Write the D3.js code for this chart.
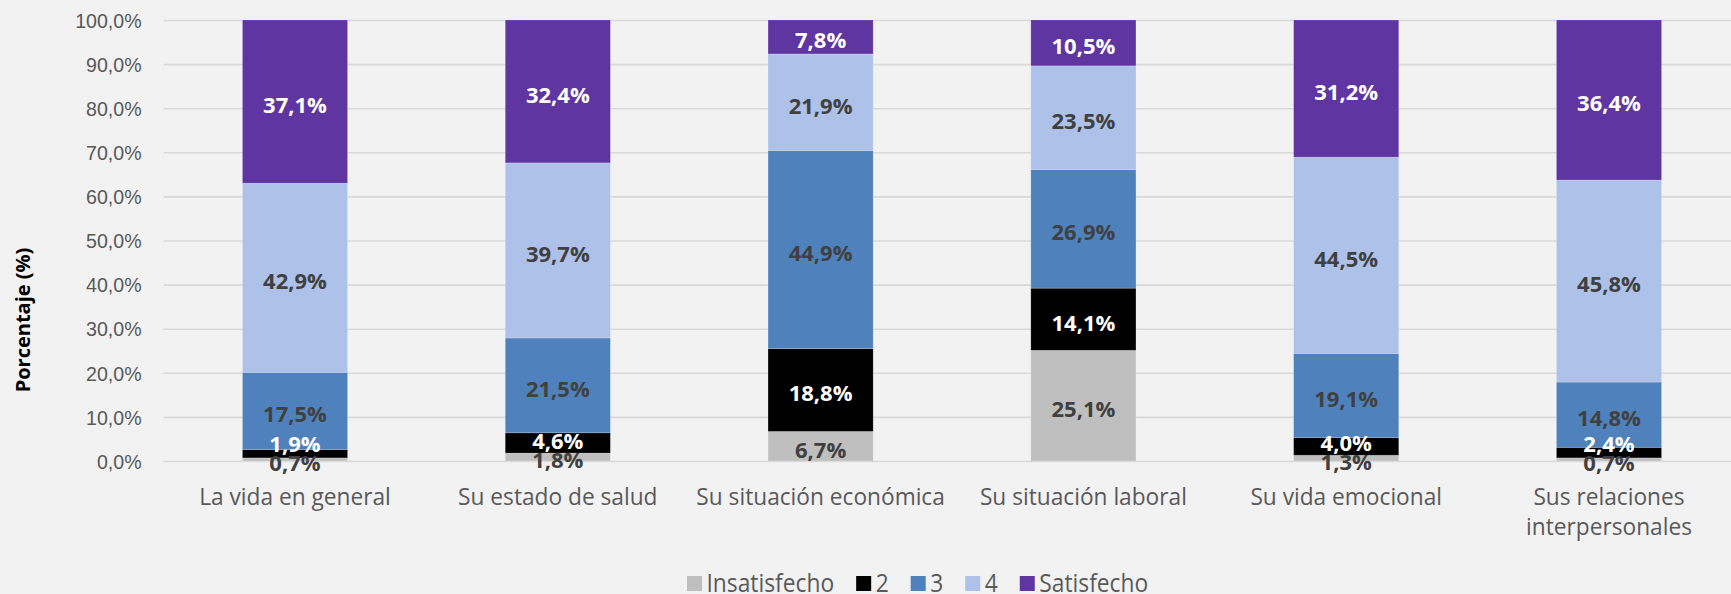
<!DOCTYPE html>
<html>
<head>
<meta charset="utf-8">
<script src="https://cdn.jsdelivr.net/npm/d3@7"></script>
<style>
  html, body { margin: 0; padding: 0; background: #f2f2f2; }
  svg { display: block; font-family: "Open Sans", "Noto Sans", sans-serif; }
</style>
</head>
<body>
<svg id="chart" width="1731" height="594"></svg>
<script>
// Satisfaction by life domain (percent of respondents)
const categories = [
  "La vida en general",
  "Su estado de salud",
  "Su situación económica",
  "Su situación laboral",
  "Su vida emocional",
  "Sus relaciones interpersonales"
];
const seriesNames = ["Insatisfecho", "2", "3", "4", "Satisfecho"];
const insatisfecho = [0.7, 1.8, 6.7, 25.1, 1.3, 0.7];
const nivel2       = [1.9, 4.6, 18.8, 14.1, 4.0, 2.4];
const nivel3       = [17.5, 21.5, 44.9, 26.9, 19.1, 14.8];
const nivel4       = [42.9, 39.7, 21.9, 23.5, 44.5, 45.8];
const satisfecho   = [37.1, 32.4, 7.8, 10.5, 31.2, 36.4];
const yTicks = [0, 10, 20, 30, 40, 50, 60, 70, 80, 90, 100];
const yTitle = "Porcentaje (%)";

const seriesValues = [insatisfecho, nivel2, nivel3, nivel4, satisfecho];
const colors = ["#bfbfbf", "#000000", "#4f81bd", "#adc1e9", "#5e35a1"];
const labelColors = ["#404040", "#ffffff", "#404040", "#404040", "#ffffff"];

const rows = categories.map((c, i) => {
  const r = { category: c };
  seriesNames.forEach((s, k) => { r[s] = seriesValues[k][i]; });
  return r;
});

const svg = d3.select("#chart");
const plot = { left: 163.6, right: 1740.4, top: 20, bottom: 461 };
const stretch = 1.05;  // slightly tall glyph proportion for the grey text
const fmt = v => v.toFixed(1).replace(".", ",") + "%";

const x = d3.scaleBand()
  .domain(categories)
  .range([plot.left, plot.right])
  .paddingInner(0.6)
  .paddingOuter(0.3);

const y = d3.scaleLinear()
  .domain([0, 100])
  .range([plot.bottom, plot.top])
  .clamp(true);

// horizontal gridlines
const grid = svg.append("g")
  .attr("transform", `translate(${plot.left},0)`)
  .call(d3.axisLeft(y).tickValues(yTicks).tickSize(-(plot.right - plot.left)).tickFormat(""));
grid.select(".domain").remove();
grid.selectAll(".tick line").attr("stroke", "#d9d9d9").attr("stroke-width", 1.6);

// y-axis tick labels
const yAxis = svg.append("g")
  .attr("transform", `translate(${plot.left},0)`)
  .call(d3.axisLeft(y).tickValues(yTicks).tickSize(0).tickPadding(22).tickFormat(fmt));
yAxis.select(".domain").remove();
yAxis.selectAll(".tick text")
  .attr("fill", "#595959")
  .attr("font-size", 19.6)
  .attr("dy", "0.35em")
  .attr("transform", `scale(1,${stretch})`);

// y-axis title
svg.append("text")
  .attr("transform", "translate(30,320) rotate(-90)")
  .attr("text-anchor", "middle")
  .attr("font-size", 20)
  .attr("font-weight", "bold")
  .attr("fill", "#000")
  .text(yTitle);

// stacked bars
const stack = d3.stack().keys(seriesNames);
const layers = stack(rows);

const layerG = svg.append("g").selectAll("g")
  .data(layers)
  .join("g")
  .attr("fill", (d, i) => colors[i]);

layerG.selectAll("rect")
  .data(d => d)
  .join("rect")
  .attr("x", d => x(d.data.category))
  .attr("width", x.bandwidth())
  .attr("y", d => y(d[1]))
  .attr("height", d => Math.max(0, y(d[0]) - y(d[1])))
  .attr("stroke", "rgba(255,255,255,0.25)")
  .attr("stroke-width", 0.8);

// data labels, centred in each segment; small segments nudge upward
const labelG = svg.append("g")
  .attr("font-size", 22)
  .attr("font-weight", "bold")
  .attr("text-anchor", "middle");

const minGap = 19;
categories.forEach((c, i) => {
  let prevY = null;
  layers.forEach((layer, k) => {
    const seg = layer[i];
    const v = seriesValues[k][i];
    let cy = (y(seg[0]) + y(seg[1])) / 2 + 3.5;
    if (prevY !== null && prevY - cy < minGap) cy = prevY - minGap;
    prevY = cy;
    labelG.append("text")
      .attr("x", x(c) + x.bandwidth() / 2)
      .attr("y", cy)
      .attr("dy", "0.36em")
      .attr("fill", labelColors[k])
      .text(fmt(v));
  });
});

// category labels (wrapped to the band)
const catG = svg.append("g")
  .attr("font-size", 22.7)
  .attr("fill", "#595959")
  .attr("text-anchor", "middle");

categories.forEach(c => {
  const g = catG.append("g")
    .attr("transform", `translate(${x(c) + x.bandwidth() / 2},505) scale(1,${stretch})`);
  const t = g.append("text");
  const words = c.split(" ");
  const maxW = x.step() - 12;
  let lines = [[]];
  words.forEach(w => {
    const cur = lines[lines.length - 1];
    t.text([...cur, w].join(" "));
    if (cur.length && t.node().getComputedTextLength() > maxW) lines.push([w]);
    else cur.push(w);
  });
  t.text(null);
  lines.forEach((ln, li) => {
    t.append("tspan")
      .attr("x", 0)
      .attr("y", li * 30 / stretch)
      .text(ln.join(" "));
  });
});

// legend
const legend = svg.append("g").attr("font-size", 22.8).attr("fill", "#595959");
let lx = 687;
seriesNames.forEach((s, k) => {
  legend.append("rect")
    .attr("x", lx).attr("y", 576)
    .attr("width", 15).attr("height", 15)
    .attr("fill", colors[k]);
  const tg = legend.append("g")
    .attr("transform", `translate(${lx + 19.5},591.5) scale(1,1.08)`);
  const t = tg.append("text").text(s);
  lx += 19.5 + t.node().getComputedTextLength() + 22;
});
</script>
</body>
</html>
